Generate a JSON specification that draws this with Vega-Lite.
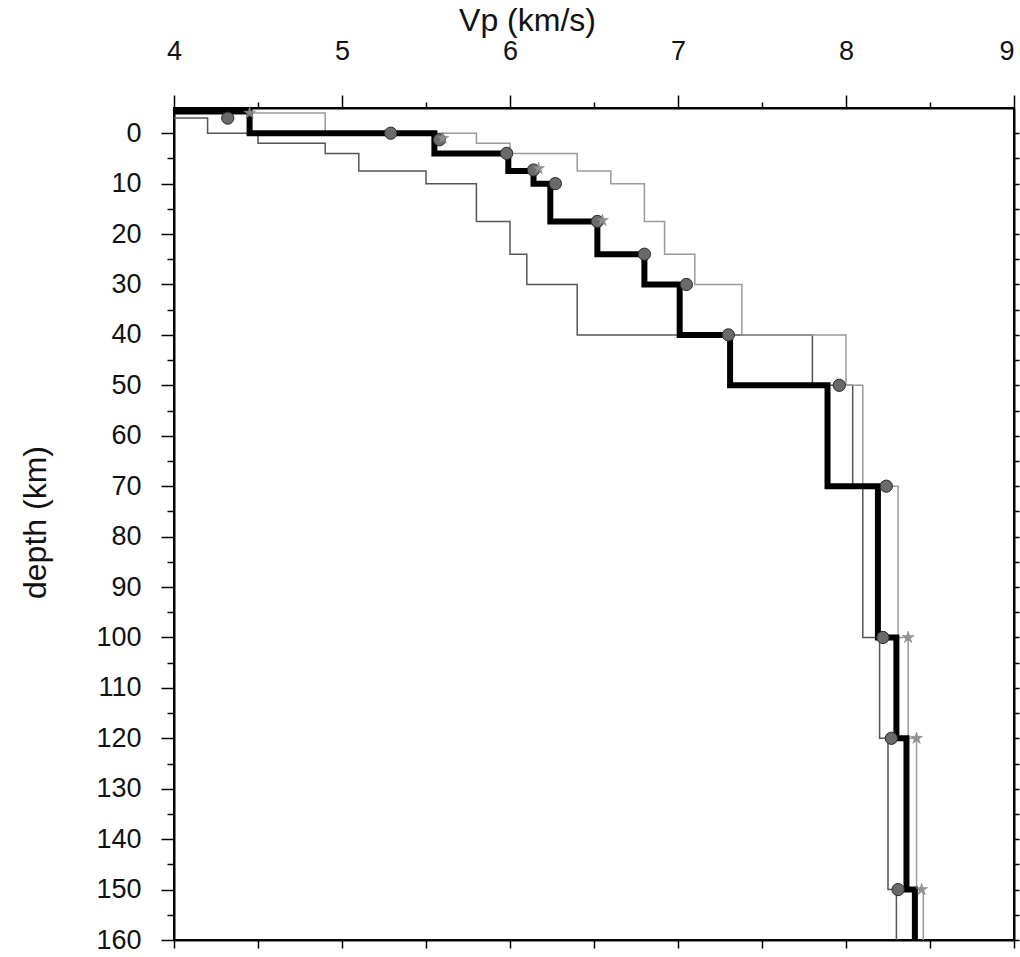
{
  "$schema": "https://vega.github.io/schema/vega-lite/v6.json",
  "autosize": "none",
  "width": 840,
  "height": 832,
  "padding": {"left": 174, "top": 108, "right": 6, "bottom": 17},
  "background": "white",
  "config": {
    "view": {"stroke": "black", "strokeWidth": 2},
    "font": "Liberation Sans",
    "axis": {"grid": false, "domainColor": "black", "domainWidth": 2, "tickColor": "black", "tickWidth": 1.5, "labelColor": "#111111", "titleColor": "#111111", "labelFont": "Liberation Sans", "titleFont": "Liberation Sans", "labelFontSize": 27, "titleFontSize": 32, "titleFontWeight": "normal"}
  },
  "datasets": {
    "lines": [
      {"m": "slow", "i": 0, "vp": 4.0, "depth": -3},
      {"m": "slow", "i": 1, "vp": 4.2, "depth": -3},
      {"m": "slow", "i": 2, "vp": 4.2, "depth": 0},
      {"m": "slow", "i": 3, "vp": 4.5, "depth": 0},
      {"m": "slow", "i": 4, "vp": 4.5, "depth": 2},
      {"m": "slow", "i": 5, "vp": 4.9, "depth": 2},
      {"m": "slow", "i": 6, "vp": 4.9, "depth": 4},
      {"m": "slow", "i": 7, "vp": 5.1, "depth": 4},
      {"m": "slow", "i": 8, "vp": 5.1, "depth": 7.5},
      {"m": "slow", "i": 9, "vp": 5.5, "depth": 7.5},
      {"m": "slow", "i": 10, "vp": 5.5, "depth": 10},
      {"m": "slow", "i": 11, "vp": 5.8, "depth": 10},
      {"m": "slow", "i": 12, "vp": 5.8, "depth": 17.5},
      {"m": "slow", "i": 13, "vp": 6.0, "depth": 17.5},
      {"m": "slow", "i": 14, "vp": 6.0, "depth": 24},
      {"m": "slow", "i": 15, "vp": 6.1, "depth": 24},
      {"m": "slow", "i": 16, "vp": 6.1, "depth": 30},
      {"m": "slow", "i": 17, "vp": 6.4, "depth": 30},
      {"m": "slow", "i": 18, "vp": 6.4, "depth": 40},
      {"m": "slow", "i": 19, "vp": 7.8, "depth": 40},
      {"m": "slow", "i": 20, "vp": 7.8, "depth": 50},
      {"m": "slow", "i": 21, "vp": 8.04, "depth": 50},
      {"m": "slow", "i": 22, "vp": 8.04, "depth": 70},
      {"m": "slow", "i": 23, "vp": 8.1, "depth": 70},
      {"m": "slow", "i": 24, "vp": 8.1, "depth": 100},
      {"m": "slow", "i": 25, "vp": 8.2, "depth": 100},
      {"m": "slow", "i": 26, "vp": 8.2, "depth": 120},
      {"m": "slow", "i": 27, "vp": 8.25, "depth": 120},
      {"m": "slow", "i": 28, "vp": 8.25, "depth": 150},
      {"m": "slow", "i": 29, "vp": 8.3, "depth": 150},
      {"m": "slow", "i": 30, "vp": 8.3, "depth": 160},
      {"m": "fast", "i": 0, "vp": 4.0, "depth": -4},
      {"m": "fast", "i": 1, "vp": 4.9, "depth": -4},
      {"m": "fast", "i": 2, "vp": 4.9, "depth": 0},
      {"m": "fast", "i": 3, "vp": 5.8, "depth": 0},
      {"m": "fast", "i": 4, "vp": 5.8, "depth": 2},
      {"m": "fast", "i": 5, "vp": 6.0, "depth": 2},
      {"m": "fast", "i": 6, "vp": 6.0, "depth": 4},
      {"m": "fast", "i": 7, "vp": 6.4, "depth": 4},
      {"m": "fast", "i": 8, "vp": 6.4, "depth": 7.5},
      {"m": "fast", "i": 9, "vp": 6.6, "depth": 7.5},
      {"m": "fast", "i": 10, "vp": 6.6, "depth": 10},
      {"m": "fast", "i": 11, "vp": 6.8, "depth": 10},
      {"m": "fast", "i": 12, "vp": 6.8, "depth": 17.5},
      {"m": "fast", "i": 13, "vp": 6.92, "depth": 17.5},
      {"m": "fast", "i": 14, "vp": 6.92, "depth": 24},
      {"m": "fast", "i": 15, "vp": 7.1, "depth": 24},
      {"m": "fast", "i": 16, "vp": 7.1, "depth": 30},
      {"m": "fast", "i": 17, "vp": 7.38, "depth": 30},
      {"m": "fast", "i": 18, "vp": 7.38, "depth": 40},
      {"m": "fast", "i": 19, "vp": 8.0, "depth": 40},
      {"m": "fast", "i": 20, "vp": 8.0, "depth": 50},
      {"m": "fast", "i": 21, "vp": 8.1, "depth": 50},
      {"m": "fast", "i": 22, "vp": 8.1, "depth": 70},
      {"m": "fast", "i": 23, "vp": 8.31, "depth": 70},
      {"m": "fast", "i": 24, "vp": 8.31, "depth": 100},
      {"m": "fast", "i": 25, "vp": 8.37, "depth": 100},
      {"m": "fast", "i": 26, "vp": 8.37, "depth": 120},
      {"m": "fast", "i": 27, "vp": 8.42, "depth": 120},
      {"m": "fast", "i": 28, "vp": 8.42, "depth": 150},
      {"m": "fast", "i": 29, "vp": 8.46, "depth": 150},
      {"m": "fast", "i": 30, "vp": 8.46, "depth": 160},
      {"m": "best", "i": 0, "vp": 4.0, "depth": -4.3},
      {"m": "best", "i": 1, "vp": 4.45, "depth": -4.3},
      {"m": "best", "i": 2, "vp": 4.45, "depth": 0},
      {"m": "best", "i": 3, "vp": 5.55, "depth": 0},
      {"m": "best", "i": 4, "vp": 5.55, "depth": 4},
      {"m": "best", "i": 5, "vp": 5.99, "depth": 4},
      {"m": "best", "i": 6, "vp": 5.99, "depth": 7.5},
      {"m": "best", "i": 7, "vp": 6.14, "depth": 7.5},
      {"m": "best", "i": 8, "vp": 6.14, "depth": 10},
      {"m": "best", "i": 9, "vp": 6.24, "depth": 10},
      {"m": "best", "i": 10, "vp": 6.24, "depth": 17.5},
      {"m": "best", "i": 11, "vp": 6.52, "depth": 17.5},
      {"m": "best", "i": 12, "vp": 6.52, "depth": 24},
      {"m": "best", "i": 13, "vp": 6.8, "depth": 24},
      {"m": "best", "i": 14, "vp": 6.8, "depth": 30},
      {"m": "best", "i": 15, "vp": 7.01, "depth": 30},
      {"m": "best", "i": 16, "vp": 7.01, "depth": 40},
      {"m": "best", "i": 17, "vp": 7.31, "depth": 40},
      {"m": "best", "i": 18, "vp": 7.31, "depth": 50},
      {"m": "best", "i": 19, "vp": 7.89, "depth": 50},
      {"m": "best", "i": 20, "vp": 7.89, "depth": 70},
      {"m": "best", "i": 21, "vp": 8.19, "depth": 70},
      {"m": "best", "i": 22, "vp": 8.19, "depth": 100},
      {"m": "best", "i": 23, "vp": 8.3, "depth": 100},
      {"m": "best", "i": 24, "vp": 8.3, "depth": 120},
      {"m": "best", "i": 25, "vp": 8.36, "depth": 120},
      {"m": "best", "i": 26, "vp": 8.36, "depth": 150},
      {"m": "best", "i": 27, "vp": 8.41, "depth": 150},
      {"m": "best", "i": 28, "vp": 8.41, "depth": 160}
    ],
    "circles": [
      {"vp": 4.32, "depth": -3},
      {"vp": 5.29, "depth": 0},
      {"vp": 5.58, "depth": 1.3},
      {"vp": 5.98, "depth": 4},
      {"vp": 6.14, "depth": 7.3},
      {"vp": 6.27, "depth": 10},
      {"vp": 6.52, "depth": 17.5},
      {"vp": 6.8, "depth": 24},
      {"vp": 7.05, "depth": 30},
      {"vp": 7.3, "depth": 40},
      {"vp": 7.96, "depth": 50},
      {"vp": 8.24, "depth": 70},
      {"vp": 8.22, "depth": 100},
      {"vp": 8.27, "depth": 120},
      {"vp": 8.31, "depth": 150}
    ],
    "stars": [
      {"vp": 4.45, "depth": -4},
      {"vp": 5.6, "depth": 1},
      {"vp": 6.17, "depth": 7},
      {"vp": 6.55, "depth": 17.3},
      {"vp": 8.37, "depth": 100},
      {"vp": 8.42, "depth": 120},
      {"vp": 8.45, "depth": 150}
    ]
  },
  "resolve": {"axis": {"x": "independent", "y": "independent"}},
  "layer": [
    {
      "data": {"name": "lines"},
      "transform": [{"filter": "datum.m === 'slow'"}],
      "mark": {"type": "line", "color": "#555555", "strokeWidth": 1.5, "strokeJoin": "miter"},
      "encoding": {
        "x": {"field": "vp", "type": "quantitative", "scale": {"domain": [4, 9], "nice": false, "zero": false},
          "axis": {"orient": "top", "title": "Vp (km/s)", "values": [4, 4.5, 5, 5.5, 6, 6.5, 7, 7.5, 8, 8.5, 9],
            "labelExpr": "datum.value % 1 === 0 ? format(datum.value, 'd') : ''",
            "labelAlign": {"condition": {"test": "datum.value === 9", "value": "right"}, "value": "center"},
            "tickSize": {"condition": {"test": "datum.value % 1 === 0", "value": 13}, "value": 6},
            "labelPadding": 30, "labelFlush": false, "labelOverlap": false,
            "titleX": 353, "titleY": -88, "titleBaseline": "middle", "titleAnchor": "middle"}},
        "y": {"field": "depth", "type": "quantitative", "scale": {"domain": [-5, 160], "nice": false, "zero": false, "reverse": true},
          "axis": {"orient": "left", "title": "depth (km)", "values": [0, 5, 10, 15, 20, 25, 30, 35, 40, 45, 50, 55, 60, 65, 70, 75, 80, 85, 90, 95, 100, 105, 110, 115, 120, 125, 130, 135, 140, 145, 150, 155, 160],
            "labelExpr": "datum.value % 10 === 0 ? format(datum.value, 'd') : ''",
            "tickSize": {"condition": {"test": "datum.value % 10 === 0", "value": 13}, "value": 7},
            "labelPadding": 20, "labelFlush": false, "labelOverlap": false, "labelBaseline": "middle",
            "titleX": -139, "titleY": 414, "titleBaseline": "middle", "titleAnchor": "middle", "titleAngle": -90}},
        "order": {"field": "i", "type": "quantitative"}
      }
    },
    {
      "data": {"name": "lines"},
      "transform": [{"filter": "datum.m === 'fast'"}],
      "mark": {"type": "line", "color": "#9a9a9a", "strokeWidth": 1.5, "strokeJoin": "miter"},
      "encoding": {
        "x": {"field": "vp", "type": "quantitative",
          "axis": {"orient": "bottom", "title": null, "values": [4, 4.5, 5, 5.5, 6, 6.5, 7, 7.5, 8, 8.5, 9], "labels": false, "tickSize": 8}},
        "y": {"field": "depth", "type": "quantitative",
          "axis": {"orient": "right", "title": null, "values": [0, 5, 10, 15, 20, 25, 30, 35, 40, 45, 50, 55, 60, 65, 70, 75, 80, 85, 90, 95, 100, 105, 110, 115, 120, 125, 130, 135, 140, 145, 150, 155, 160], "labels": false, "tickSize": 5}},
        "order": {"field": "i", "type": "quantitative"}
      }
    },
    {
      "data": {"name": "lines"},
      "transform": [{"filter": "datum.m === 'best'"}],
      "mark": {"type": "line", "color": "#000000", "strokeWidth": 6, "strokeJoin": "miter"},
      "encoding": {
        "x": {"field": "vp", "type": "quantitative", "axis": null},
        "y": {"field": "depth", "type": "quantitative", "axis": null},
        "order": {"field": "i", "type": "quantitative"}
      }
    },
    {
      "data": {"name": "circles"},
      "mark": {"type": "point", "shape": "circle", "filled": true, "size": 150, "color": "#6a6a6a", "stroke": "#2a2a2a", "strokeWidth": 1, "opacity": 1},
      "encoding": {
        "x": {"field": "vp", "type": "quantitative", "axis": null},
        "y": {"field": "depth", "type": "quantitative", "axis": null}
      }
    },
    {
      "data": {"name": "stars"},
      "mark": {"type": "point", "shape": "M0,-1L0.2245,-0.309L0.951,-0.309L0.363,0.118L0.588,0.809L0,0.382L-0.588,0.809L-0.363,0.118L-0.951,-0.309L-0.2245,-0.309Z", "filled": true, "size": 160, "color": "#8f8f8f", "stroke": "#777777", "strokeWidth": 0.5, "opacity": 0.95},
      "encoding": {
        "x": {"field": "vp", "type": "quantitative", "axis": null},
        "y": {"field": "depth", "type": "quantitative", "axis": null}
      }
    }
  ]
}
